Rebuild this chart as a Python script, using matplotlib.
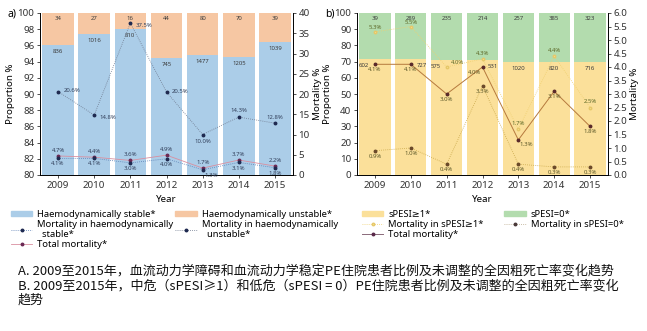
import numpy as np
import matplotlib
matplotlib.use("Agg")
import matplotlib.pyplot as plt
from matplotlib.patches import Patch
from matplotlib.lines import Line2D

plt.rcParams["font.family"] = ["Noto Sans", "DejaVu Sans"]

years = [2009, 2010, 2011, 2012, 2013, 2014, 2015]

# panel a: haemodynamic status
stable_n = [836, 1016, 810, 745, 1477, 1205, 1039]
unstable_n = [34, 27, 16, 44, 80, 70, 39]
mort_stable = [4.1, 4.1, 3.0, 4.0, 1.3, 3.1, 1.8]
mort_unstable = [20.6, 14.8, 37.5, 20.5, 10.0, 14.3, 12.8]
mort_total_a = [4.7, 4.4, 3.6, 4.9, 1.7, 3.7, 2.2]

# panel b: sPESI
spesi1_pct = [71.5, 71.5, 71.0, 71.0, 69.5, 69.5, 70.0]
spesi1_lbl = ["602", "727", "575", "531", "1020", "820", "716"]
spesi0_lbl = ["39", "289", "235", "214", "257", "385", "323"]
mort_spesi1 = [5.3, 5.5, 4.0, 4.3, 1.7, 4.4, 2.5]
mort_spesi0 = [0.9, 1.0, 0.4, 3.3, 0.4, 0.3, 0.3]
mort_total_b = [4.1, 4.1, 3.0, 4.0, 1.3, 3.1, 1.8]

c_blue = "#abcde8"
c_orange = "#f6c7a3"
c_green = "#b3dcae"
c_yellow = "#fbe09a"
txt = "#3b3b3b"

W, H = 647, 331
fig = plt.figure(figsize=(W / 100, H / 100), dpi=100)


def px_axes(x0, y0, x1, y1):
    return fig.add_axes([x0 / W, 1 - y1 / H, (x1 - x0) / W, (y1 - y0) / H])


def style(ax, ax2):
    for a in (ax, ax2):
        a.spines["top"].set_visible(False)
        a.tick_params(labelsize=7, length=2.5, width=0.6, pad=1.5, colors="#333333")
        for s in a.spines.values():
            s.set_linewidth(0.6)
    ax.set_xlim(-0.5, 6.5)
    ax.set_xticks(range(7))
    ax.set_xticklabels([str(y) for y in years])
    ax.set_xlabel("Year", fontsize=7, labelpad=4)
    ax.set_ylabel("Proportion %", fontsize=7, labelpad=2)
    ax2.set_ylabel("Mortality %", fontsize=7, labelpad=2)


def label_points(ax2, vals, offs, color="#33415c"):
    for i, (v, o) in enumerate(zip(vals, offs)):
        ax2.annotate(f"{v:.1f}%", (i, v), xytext=o, textcoords="offset points",
                     fontsize=4.3, color=color, ha="center", va="center")


x = np.arange(7)
bw = 0.87

# ---------------- panel a ----------------
ax = px_axes(40, 13, 293, 175)
tot = np.array(stable_n) + np.array(unstable_n)
stable_pct = np.array(stable_n) / tot * 100
ax.bar(x, stable_pct, bw, color=c_blue, zorder=1)
ax.bar(x, 100 - stable_pct, bw, bottom=stable_pct, color=c_orange, zorder=1)
ax.set_ylim(80, 100)
ax.set_yticks(range(80, 101, 2))
for i in x:
    ax.text(i, 99.3, str(unstable_n[i]), fontsize=4.3, ha="center", va="center", color=txt)
    ax.text(i, stable_pct[i] - 0.8, str(stable_n[i]), fontsize=4.3, ha="center", va="center", color=txt)
ax2 = ax.twinx()
ax2.set_ylim(0, 40)
ax2.set_yticks(range(0, 41, 5))
ax2.plot(x, mort_unstable, ls=(0, (1, 1.5)), lw=0.6, color="#6f7a8f", marker="o", ms=1.8,
         mfc="#1f2a50", mec="#1f2a50")
ax2.plot(x, mort_total_a, ls="-", lw=0.6, color="#d98fa0", marker="o", ms=1.8,
         mfc="#6b2a55", mec="#6b2a55")
ax2.plot(x, mort_stable, ls=(0, (1, 1.5)), lw=0.6, color="#5b7fb5", marker="o", ms=1.8,
         mfc="#1f2a50", mec="#1f2a50")
label_points(ax2, mort_unstable, [(10, 1), (10, -2), (10, -2), (10, 0), (0, -5), (0, 5), (0, 4)])
label_points(ax2, mort_total_a, [(0, 4), (0, 4), (0, 4), (0, 4), (0, 4), (0, 4), (0, 4)])
label_points(ax2, mort_stable, [(0, -4), (0, -4), (0, -4), (0, -4), (6, -4), (0, -4), (0, -4)])
style(ax, ax2)
fig.text(8 / W, 1 - 14 / H, "a)", fontsize=7.5, va="center")

ha = [Patch(color=c_blue), Line2D([], [], ls=(0, (1, 1.5)), lw=0.6, color="#5b7fb5", marker="o", ms=1.8, mfc="#1f2a50", mec="#1f2a50"),
      Line2D([], [], lw=0.6, color="#d98fa0", marker="o", ms=1.8, mfc="#6b2a55", mec="#6b2a55"),
      Patch(color=c_orange), Line2D([], [], ls=(0, (1, 1.5)), lw=0.6, color="#6f7a8f", marker="o", ms=1.8, mfc="#1f2a50", mec="#1f2a50")]
la = ["Haemodynamically stable*", "Mortality in haemodynamically\n  stable*", "Total mortality*",
      "Haemodynamically unstable*", "Mortality in haemodynamically\n  unstable*"]
fig.legend(ha, la, ncol=2, loc="upper left", bbox_to_anchor=(6 / W, 1 - 205 / H), frameon=False,
           fontsize=6.8, handlelength=2.3, handleheight=0.5, labelspacing=0.1, columnspacing=0.2,
           handletextpad=0.5, borderpad=0)

# ---------------- panel b ----------------
bx = px_axes(357, 13, 608, 175)
sp1 = np.array(spesi1_pct)
bx.bar(x, sp1, bw, color=c_yellow, zorder=1)
bx.bar(x, 100 - sp1, bw, bottom=sp1, color=c_green, zorder=1)
bx.set_ylim(0, 100)
bx.set_yticks(range(0, 101, 10))
cnt_dx = [-0.3, 0.3, -0.3, 0.3, 0, 0, 0]
for i in x:
    bx.text(i, 96.5, spesi0_lbl[i], fontsize=4.3, ha="center", va="center", color=txt)
    bx.text(i + cnt_dx[i], sp1[i] - 4, spesi1_lbl[i], fontsize=4.3, ha="center", va="center", color=txt)
bx2 = bx.twinx()
bx2.set_ylim(0, 6)
bx2.set_yticks(np.arange(0, 6.01, 0.5))
bx2.set_yticklabels([f"{v:.1f}" for v in np.arange(0, 6.01, 0.5)])
bx2.plot(x, mort_spesi1, ls=(0, (1, 1.5)), lw=0.6, color="#f0d070", marker="o", ms=1.8,
         mfc="#f3dc8c", mec="#e6c86a")
bx2.plot(x, mort_spesi0, ls=(0, (1, 1.5)), lw=0.6, color="#c9a84a", marker="o", ms=1.8,
         mfc="#6b4a2a", mec="#6b4a2a")
bx2.plot(x, mort_total_b, ls="-", lw=0.7, color="#b5793d", marker="o", ms=1.8,
         mfc="#5a2a2a", mec="#5a2a2a")
label_points(bx2, mort_spesi1, [(0, 3), (0, 3), (8, 3), (0, 4), (0, 4), (0, 4), (0, 4)], color="#5e6a2a")
label_points(bx2, mort_spesi0, [(0, -4), (0, -4), (0, -4), (0, -4), (0, -4), (0, -4), (0, -4)], color="#5e5a2a")
label_points(bx2, mort_total_b, [(0, -4), (0, -4), (0, -4), (-6, -4), (6, -3), (0, -4), (0, -4)], color="#5e5a2a")
style(bx, bx2)
fig.text(325 / W, 1 - 14 / H, "b)", fontsize=7.5, va="center")

hb = [Patch(color=c_yellow), Line2D([], [], ls=(0, (1, 1.5)), lw=0.6, color="#f0d070", marker="o", ms=1.8, mfc="#f3dc8c", mec="#e6c86a"),
      Line2D([], [], lw=0.7, color="#8a6a7a", marker="o", ms=1.8, mfc="#5a2a4a", mec="#5a2a4a"),
      Patch(color=c_green), Line2D([], [], ls=(0, (1, 1.5)), lw=0.6, color="#b9a88a", marker="o", ms=1.8, mfc="#4a3a3a", mec="#4a3a3a")]
lb = ["sPESI≥1*", "Mortality in sPESI≥1*", "Total mortality*", "sPESI=0*", "Mortality in sPESI=0*"]
fig.legend(hb, lb, ncol=2, loc="upper left", bbox_to_anchor=(357 / W, 1 - 205 / H), frameon=False,
           fontsize=6.8, handlelength=2.3, handleheight=0.5, labelspacing=0.1, columnspacing=2.2,
           handletextpad=0.5, borderpad=0)

caption = ("A. 2009至2015年，血流动力学障碍和血流动力学稳定PE住院患者比例及未调整的全因粗死亡率变化趋势\n"
           "B. 2009至2015年，中危（sPESI≥1）和低危（sPESI = 0）PE住院患者比例及未调整的全因粗死亡率变化\n"
           "趋势")
fig.text(18 / W, 1 - 265 / H, caption, fontsize=9.4, va="top", ha="left", color="#111111",
         family=["Noto Sans CJK SC", "DejaVu Sans"], linespacing=1.12)

fig.savefig("out.png", dpi=100)
